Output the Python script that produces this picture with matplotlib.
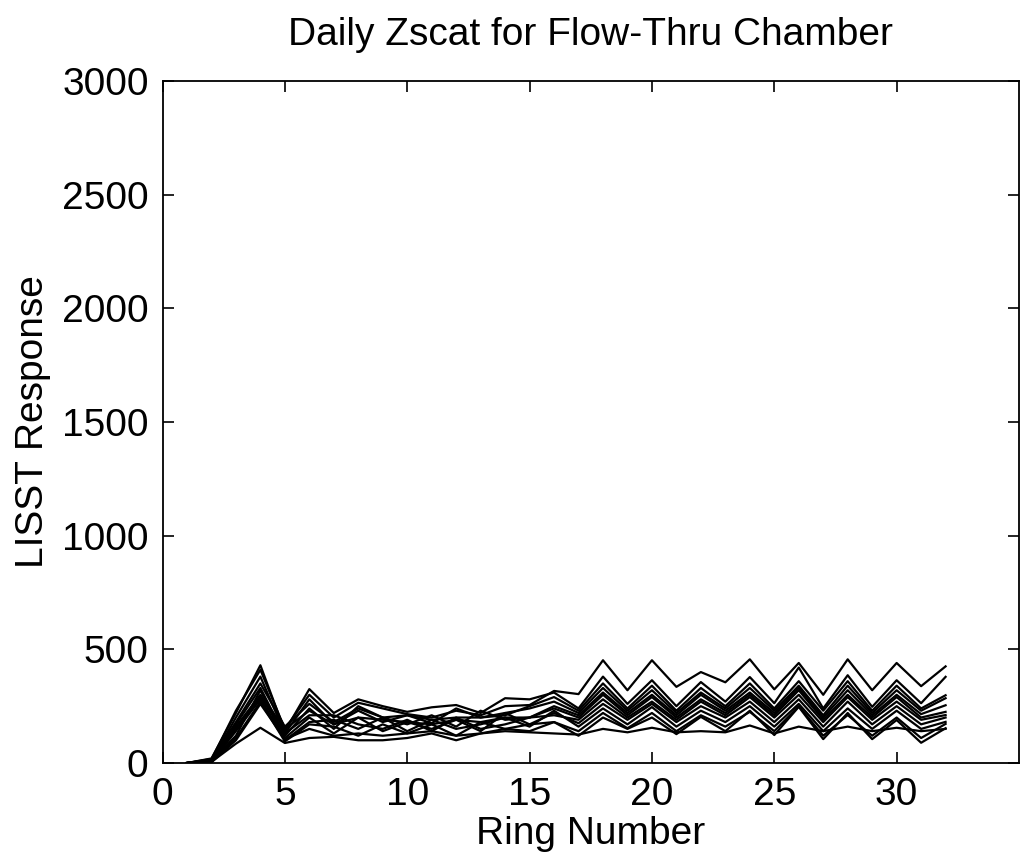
import matplotlib
matplotlib.use("Agg")
import matplotlib.pyplot as plt

rings = list(range(1, 33))

s1 = [0, 15, 230, 410, 150, 300, 200, 265, 240, 215, 200, 230, 210, 250, 255, 317, 303, 452, 320, 452, 335, 400, 355, 456, 324, 440, 300, 456, 320, 440, 338, 425]
s2 = [0, 20, 220, 430, 140, 325, 220, 280, 250, 225, 245, 255, 220, 285, 280, 310, 240, 380, 260, 364, 250, 356, 270, 378, 263, 420, 240, 386, 247, 364, 263, 379]
s3 = [0, 10, 200, 380, 130, 280, 170, 230, 180, 210, 175, 240, 200, 210, 250, 290, 230, 350, 240, 340, 230, 330, 250, 350, 240, 360, 230, 360, 230, 340, 240, 298]
s4 = [0, 18, 180, 350, 160, 260, 180, 240, 200, 210, 190, 200, 200, 220, 240, 270, 220, 330, 230, 320, 220, 310, 240, 330, 230, 340, 210, 340, 220, 320, 230, 285]
s5 = [0, 12, 170, 330, 120, 240, 150, 250, 200, 170, 210, 160, 230, 190, 200, 250, 210, 310, 220, 300, 210, 300, 230, 310, 220, 330, 200, 320, 210, 300, 215, 254]
s6 = [0, 8, 160, 300, 150, 230, 170, 200, 190, 180, 170, 190, 180, 200, 200, 240, 200, 300, 210, 290, 200, 280, 220, 300, 210, 320, 190, 300, 200, 290, 200, 225]
s7 = [0, 15, 150, 290, 130, 210, 210, 170, 150, 190, 140, 200, 150, 170, 200, 210, 190, 280, 200, 270, 190, 270, 210, 290, 200, 300, 180, 290, 190, 270, 190, 211]
s8 = [0, 5, 140, 280, 110, 200, 130, 200, 140, 180, 150, 190, 140, 220, 170, 220, 175, 260, 190, 260, 180, 250, 200, 270, 180, 280, 160, 270, 170, 250, 170, 200]
s9 = [0, 10, 120, 320, 100, 180, 190, 150, 200, 140, 190, 150, 170, 200, 160, 230, 160, 240, 170, 246, 160, 230, 180, 250, 160, 260, 140, 240, 150, 230, 150, 181]
s10 = [0, 5, 110, 270, 95, 170, 160, 120, 170, 130, 170, 120, 180, 150, 170, 180, 140, 220, 153, 220, 140, 210, 160, 225, 140, 250, 120, 211, 120, 200, 110, 172]
s11 = [0, 3, 100, 260, 105, 150, 120, 130, 120, 130, 140, 120, 130, 150, 140, 180, 120, 200, 150, 200, 127, 203, 140, 230, 123, 247, 105, 220, 105, 189, 89, 153]
s12 = [0, 5, 85, 155, 88, 110, 115, 100, 100, 110, 130, 100, 130, 140, 135, 130, 125, 150, 135, 155, 135, 140, 135, 165, 130, 160, 140, 160, 140, 155, 140, 150]

series = [s1, s2, s3, s4, s5, s6, s7, s8, s9, s10, s11, s12]

xticks = [0, 5, 10, 15, 20, 25, 30]
yticks = [0, 500, 1000, 1500, 2000, 2500, 3000]

plt.rcParams['font.family'] = ['Liberation Sans', 'DejaVu Sans']

fig = plt.figure(figsize=(10.22, 8.58), dpi=100)
ax = fig.add_axes([162.5 / 1022, 1 - 763 / 858, (1019 - 162.5) / 1022, (763 - 81) / 858])

for s in series:
    ax.plot(rings, s, color='black', linewidth=1.6)

ax.set_xlim(0, 35)
ax.set_ylim(0, 3000)
ax.set_xticks(xticks)
ax.set_yticks(yticks)
ax.tick_params(direction='in', length=8, width=1.2, top=True, right=True,
               labelsize=28, pad=10)
for sp in ax.spines.values():
    sp.set_linewidth(1.3)

ax.set_title('Daily Zscat for Flow-Thru Chamber', fontsize=28, pad=26)
ax.set_xlabel('Ring Number', fontsize=28, labelpad=2)
ax.set_ylabel('LISST Response', fontsize=28, labelpad=8)

fig.savefig('out.png', dpi=100)
